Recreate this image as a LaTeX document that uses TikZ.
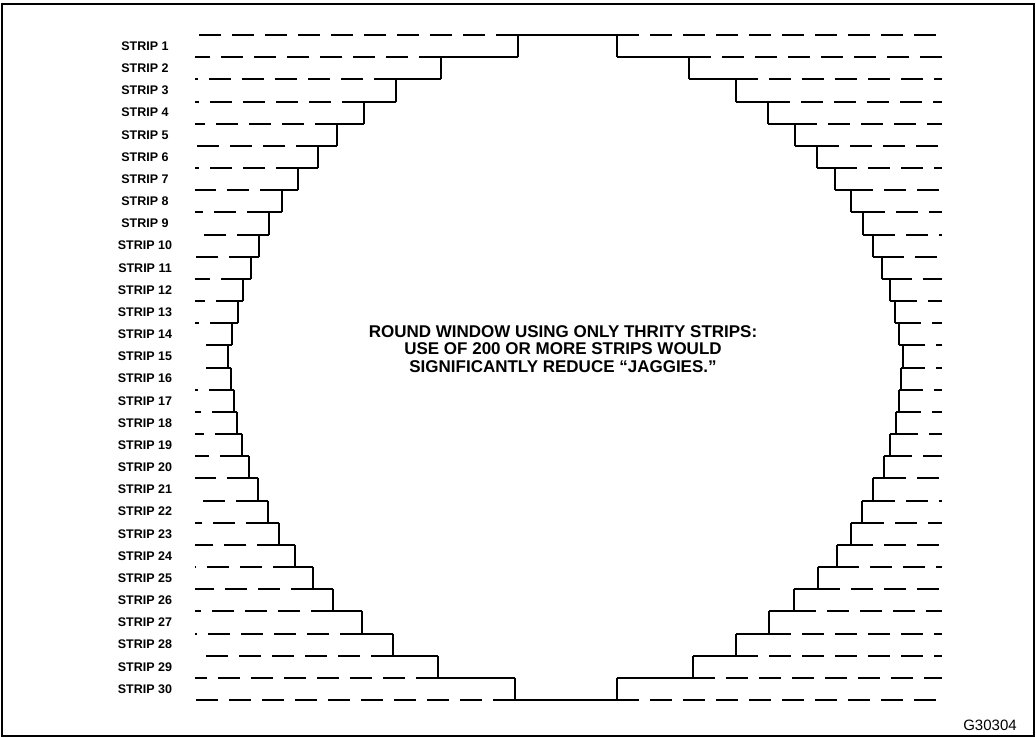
\documentclass[tikz,border=0pt]{standalone}
\usepackage{fontspec}
\setmainfont{Liberation Sans}
\begin{document}
\begin{tikzpicture}[x=1pt,y=-1pt,
  edge/.style={line width=2pt},
  gridline/.style={line width=2pt,dash pattern=on 22pt off 11pt},
  striplabel/.style={font=\bfseries\fontsize{12.5}{14}\selectfont},
  notetext/.style={font=\bfseries\fontsize{17}{17.5}\selectfont,align=center}]
\useasboundingbox (0,0) rectangle (1036,738);
\draw[line width=2pt] (2,4) rectangle (1034,736);

% left and right edge of each strip (0 and 31 are the middle)
\def\leftx{{567,518,441,396,364,337,318,298,282,269,259,251,243,238,232,228,231,234,237,242,249,258,268,279,295,313,333,362,393,438,515,567}}
\def\rightx{{567,617,689,736,768,795,817,835,851,863,873,882,890,895,899,903,901,899,896,890,884,873,862,851,837,818,794,769,736,693,617,567}}

\foreach \k in {1,...,30}{
  \pgfmathsetmacro{\ya}{35+(\k-1)*22.17}
  \pgfmathsetmacro{\yb}{\ya+22.17}
  \pgfmathsetmacro{\xl}{\leftx[\k]}
  \pgfmathsetmacro{\xr}{\rightx[\k]}
  \node[striplabel] (s\k) at (145,\ya+11.08) {STRIP \k};
  \draw[edge] (\xl,\ya) -- (\xl,\yb);
  \draw[edge] (\xr,\ya) -- (\xr,\yb);
}

\foreach \k in {1,...,31}{
  \pgfmathsetmacro{\y}{35+(\k-1)*22.17}
  \pgfmathsetmacro{\a}{min(\leftx[\k-1],\leftx[\k])}
  \pgfmathsetmacro{\b}{max(\leftx[\k-1],\leftx[\k])}
  \pgfmathsetmacro{\c}{min(\rightx[\k-1],\rightx[\k])}
  \pgfmathsetmacro{\d}{max(\rightx[\k-1],\rightx[\k])}
  \draw[gridline] (\a,\y) -- (195,\y);
  \draw[edge] (\a,\y) -- (\b,\y);
  \draw[edge] (\c,\y) -- (\d,\y);
  \draw[gridline] (\d,\y) -- (942,\y);
}

\node[notetext] (note) at (563,349) {ROUND WINDOW USING ONLY THRITY STRIPS:\\
USE OF 200 OR MORE STRIPS WOULD\\
SIGNIFICANTLY REDUCE ``JAGGIES.''};
\node[font=\fontsize{15}{16}\selectfont] (fig) at (990,725) {G30304};
\end{tikzpicture}
\end{document}
